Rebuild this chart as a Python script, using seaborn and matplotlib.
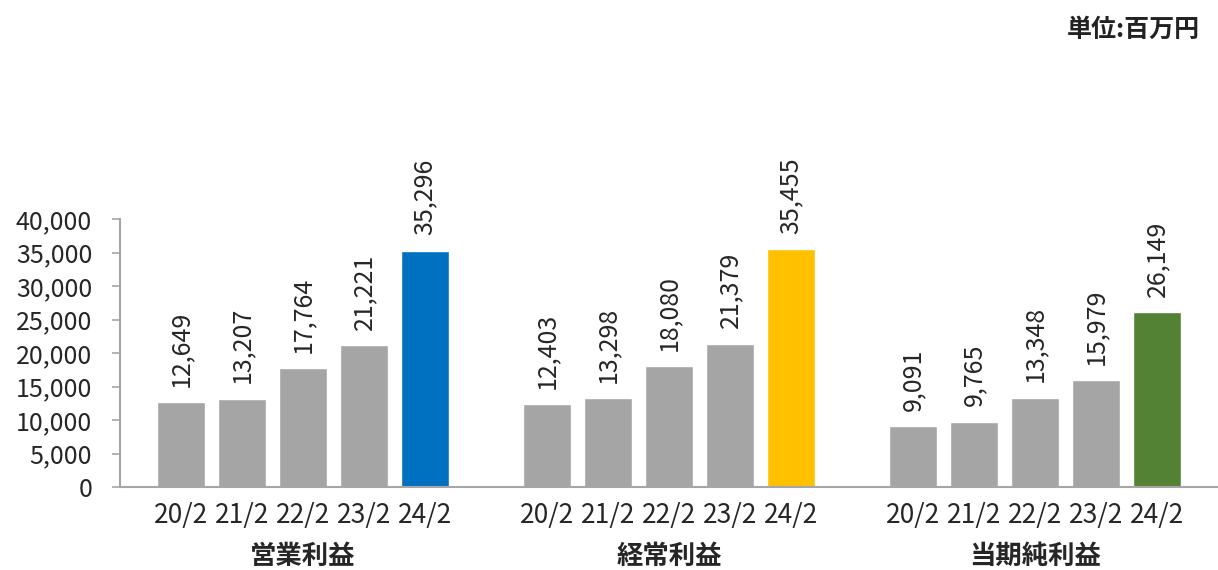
import pandas as pd
import numpy as np
import matplotlib
matplotlib.use('Agg')
import matplotlib.pyplot as plt
import matplotlib.transforms as mtransforms
import seaborn as sns

groups = ['営業利益', '経常利益', '当期純利益']
periods = ['20/2', '21/2', '22/2', '23/2', '24/2']
op_profit = [12649, 13207, 17764, 21221, 35296]
ord_profit = [12403, 13298, 18080, 21379, 35455]
net_profit = [9091, 9765, 13348, 15979, 26149]
highlight = ['#0070C0', '#FFC000', '#548235']
gray = '#A5A5A5'

sns.set_style('white')
plt.rcParams['font.family'] = ['Noto Sans CJK JP', 'DejaVu Sans']

rows = []
for g, vals in enumerate([op_profit, ord_profit, net_profit]):
    for j, v in enumerate(vals):
        kind = groups[g] if j == len(vals) - 1 else 'past'
        rows.append({'pos': g * 6 + 1 + j, 'value': v, 'kind': kind, 'period': periods[j]})
df = pd.DataFrame(rows)
pal = {'past': gray}
for g, c in zip(groups, highlight):
    pal[g] = c

fig = plt.figure(figsize=(12.18, 5.70), dpi=100)
ax = fig.add_axes([120 / 1218, 83 / 570, 1098 / 1218, 268 / 570])
sns.barplot(data=df, x='pos', y='value', hue='kind', palette=pal, dodge=False,
            native_scale=True, width=0.78, legend=False, ax=ax, saturation=1)

ax.set_xlim(0, 18)
ax.set_ylim(0, 40000)
ax.set_yticks(np.arange(0, 40001, 5000))
ax.set_yticklabels([f'{t:,}' for t in range(0, 40001, 5000)], fontsize=18)
ax.set_xticks(df['pos'])
ax.set_xticklabels(df['period'], fontsize=19)
ax.set_xticks([0, 6, 12, 18], minor=True)
ax.tick_params(axis='x', which='major', length=0, pad=11)
ax.tick_params(axis='x', which='minor', length=6, width=1.2, color='#A6A6A6', direction='out')
ax.tick_params(axis='y', length=6, width=1.2, color='#A6A6A6', direction='out', pad=14, left=True)
ax.set_xlabel('')
ax.set_ylabel('')
for s in ['top', 'right']:
    ax.spines[s].set_visible(False)
for s in ['left', 'bottom']:
    ax.spines[s].set_color('#A6A6A6')
    ax.spines[s].set_linewidth(1.5)

for _, r in df.iterrows():
    ax.annotate(f"{r['value']:,}", (r['pos'], r['value']), xytext=(0, 11),
                textcoords='offset points', rotation=90, ha='center', va='bottom',
                fontsize=18, annotation_clip=False)

trans = mtransforms.blended_transform_factory(ax.transData, ax.transAxes)
for g, name in enumerate(groups):
    ax.text(g * 6 + 3, -0.26, name, transform=trans, ha='center', va='center',
            fontsize=19, fontweight='bold')

fig.text(1200 / 1218, 1 - 30 / 570, '単位:百万円', ha='right', va='center',
         fontsize=18, fontweight='bold', color='#222222')

fig.savefig('out.png', dpi=100)
